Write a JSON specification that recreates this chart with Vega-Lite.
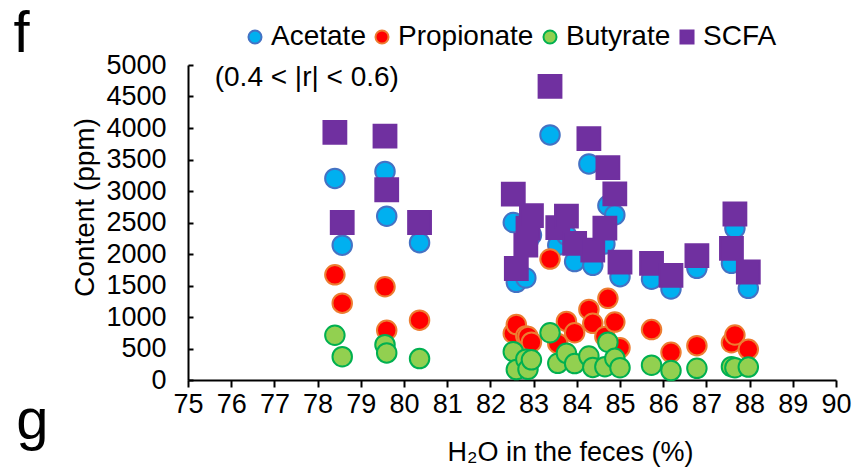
{
  "$schema": "https://vega.github.io/schema/vega-lite/v6.json",
  "width": 648,
  "height": 315,
  "autosize": {"type": "none"},
  "padding": {"left": 188, "top": 65, "right": 18, "bottom": 88},
  "background": "white",
  "config": {
    "font": "Liberation Sans",
    "view": {"stroke": null},
    "axis": {"grid": false, "domainColor": "black", "tickColor": "black", "labelColor": "black", "titleColor": "black", "labelFont": "Liberation Sans", "titleFont": "Liberation Sans", "titleFontWeight": "normal", "labelOverlap": false, "labelSeparation": 0},
    "legend": {"labelFontSize": 28, "labelFont": "Liberation Sans", "labelColor": "black", "symbolSize": 170, "symbolStrokeWidth": 2, "labelOffset": 2, "columnPadding": 2}
  },
  "encoding": {
    "x": {"field": "h", "type": "quantitative", "scale": {"domain": [75, 90], "nice": false},
      "axis": {"values": [75, 76, 77, 78, 79, 80, 81, 82, 83, 84, 85, 86, 87, 88, 89, 90], "format": "d", "title": "H₂O in the feces (%)", "titleFontSize": 27, "labelFontSize": 27, "tickSize": 7, "labelPadding": 4, "domainWidth": 2, "tickWidth": 2, "titleX": 382, "titleY": 80, "titleBaseline": "alphabetic", "labelFlush": false, "labelOverlap": false}},
    "y": {"field": "ppm", "type": "quantitative", "scale": {"domain": [0, 5000], "nice": false},
      "axis": {"values": [0, 500, 1000, 1500, 2000, 2500, 3000, 3500, 4000, 4500, 5000], "format": "d", "title": "Content (ppm)", "titleFontSize": 28, "labelFontSize": 27, "tickSize": -5, "labelPadding": 27, "domainWidth": 2, "tickWidth": 2, "titleX": -103, "titleY": 142, "titleAlign": "center", "titleBaseline": "middle", "labelOverlap": false}}
  },
  "layer": [
    {
      "data": {"values": [
        {"h": 78.40, "acid": "Acetate", "ppm": 3200},
        {"h": 78.57, "acid": "Acetate", "ppm": 2140},
        {"h": 79.56, "acid": "Acetate", "ppm": 3310},
        {"h": 79.60, "acid": "Acetate", "ppm": 2600},
        {"h": 80.36, "acid": "Acetate", "ppm": 2180},
        {"h": 82.53, "acid": "Acetate", "ppm": 2500},
        {"h": 82.60, "acid": "Acetate", "ppm": 1550},
        {"h": 82.82, "acid": "Acetate", "ppm": 1620},
        {"h": 82.87, "acid": "Acetate", "ppm": 2200},
        {"h": 82.95, "acid": "Acetate", "ppm": 2300},
        {"h": 83.38, "acid": "Acetate", "ppm": 3890},
        {"h": 83.56, "acid": "Acetate", "ppm": 2140},
        {"h": 83.76, "acid": "Acetate", "ppm": 2300},
        {"h": 83.95, "acid": "Acetate", "ppm": 1880},
        {"h": 84.28, "acid": "Acetate", "ppm": 3430},
        {"h": 84.37, "acid": "Acetate", "ppm": 1820},
        {"h": 84.65, "acid": "Acetate", "ppm": 2160},
        {"h": 84.72, "acid": "Acetate", "ppm": 2770},
        {"h": 84.88, "acid": "Acetate", "ppm": 2620},
        {"h": 85.00, "acid": "Acetate", "ppm": 1640},
        {"h": 85.73, "acid": "Acetate", "ppm": 1600},
        {"h": 86.18, "acid": "Acetate", "ppm": 1445},
        {"h": 86.78, "acid": "Acetate", "ppm": 1773},
        {"h": 87.58, "acid": "Acetate", "ppm": 1852},
        {"h": 87.66, "acid": "Acetate", "ppm": 2407},
        {"h": 87.97, "acid": "Acetate", "ppm": 1455},
        {"h": 78.40, "acid": "Propionate", "ppm": 1670},
        {"h": 78.57, "acid": "Propionate", "ppm": 1220},
        {"h": 79.56, "acid": "Propionate", "ppm": 1480},
        {"h": 79.60, "acid": "Propionate", "ppm": 790},
        {"h": 80.36, "acid": "Propionate", "ppm": 950},
        {"h": 82.53, "acid": "Propionate", "ppm": 740},
        {"h": 82.60, "acid": "Propionate", "ppm": 880},
        {"h": 82.82, "acid": "Propionate", "ppm": 700},
        {"h": 82.87, "acid": "Propionate", "ppm": 690},
        {"h": 82.95, "acid": "Propionate", "ppm": 600},
        {"h": 83.38, "acid": "Propionate", "ppm": 1920},
        {"h": 83.56, "acid": "Propionate", "ppm": 580},
        {"h": 83.76, "acid": "Propionate", "ppm": 930},
        {"h": 83.95, "acid": "Propionate", "ppm": 750},
        {"h": 84.28, "acid": "Propionate", "ppm": 1120},
        {"h": 84.37, "acid": "Propionate", "ppm": 900},
        {"h": 84.65, "acid": "Propionate", "ppm": 690},
        {"h": 84.72, "acid": "Propionate", "ppm": 1296},
        {"h": 84.88, "acid": "Propionate", "ppm": 920},
        {"h": 85.00, "acid": "Propionate", "ppm": 510},
        {"h": 85.73, "acid": "Propionate", "ppm": 800},
        {"h": 86.18, "acid": "Propionate", "ppm": 440},
        {"h": 86.78, "acid": "Propionate", "ppm": 545},
        {"h": 87.58, "acid": "Propionate", "ppm": 592},
        {"h": 87.66, "acid": "Propionate", "ppm": 714},
        {"h": 87.97, "acid": "Propionate", "ppm": 487},
        {"h": 78.40, "acid": "Butyrate", "ppm": 710},
        {"h": 78.57, "acid": "Butyrate", "ppm": 370},
        {"h": 79.56, "acid": "Butyrate", "ppm": 560},
        {"h": 79.60, "acid": "Butyrate", "ppm": 430},
        {"h": 80.36, "acid": "Butyrate", "ppm": 340},
        {"h": 82.53, "acid": "Butyrate", "ppm": 450},
        {"h": 82.60, "acid": "Butyrate", "ppm": 165},
        {"h": 82.82, "acid": "Butyrate", "ppm": 330},
        {"h": 82.87, "acid": "Butyrate", "ppm": 170},
        {"h": 82.95, "acid": "Butyrate", "ppm": 320},
        {"h": 83.38, "acid": "Butyrate", "ppm": 750},
        {"h": 83.56, "acid": "Butyrate", "ppm": 265},
        {"h": 83.76, "acid": "Butyrate", "ppm": 424},
        {"h": 83.95, "acid": "Butyrate", "ppm": 260},
        {"h": 84.28, "acid": "Butyrate", "ppm": 380},
        {"h": 84.37, "acid": "Butyrate", "ppm": 200},
        {"h": 84.65, "acid": "Butyrate", "ppm": 211},
        {"h": 84.72, "acid": "Butyrate", "ppm": 600},
        {"h": 84.88, "acid": "Butyrate", "ppm": 344},
        {"h": 85.00, "acid": "Butyrate", "ppm": 195},
        {"h": 85.73, "acid": "Butyrate", "ppm": 235},
        {"h": 86.18, "acid": "Butyrate", "ppm": 150},
        {"h": 86.78, "acid": "Butyrate", "ppm": 186},
        {"h": 87.58, "acid": "Butyrate", "ppm": 211},
        {"h": 87.66, "acid": "Butyrate", "ppm": 195},
        {"h": 87.97, "acid": "Butyrate", "ppm": 205},
        {"h": 78.40, "acid": "SCFA", "ppm": 3930},
        {"h": 78.57, "acid": "SCFA", "ppm": 2500},
        {"h": 79.56, "acid": "SCFA", "ppm": 3870},
        {"h": 79.60, "acid": "SCFA", "ppm": 3020},
        {"h": 80.36, "acid": "SCFA", "ppm": 2500},
        {"h": 82.53, "acid": "SCFA", "ppm": 2950},
        {"h": 82.60, "acid": "SCFA", "ppm": 1770},
        {"h": 82.82, "acid": "SCFA", "ppm": 2140},
        {"h": 82.87, "acid": "SCFA", "ppm": 2410},
        {"h": 82.95, "acid": "SCFA", "ppm": 2610},
        {"h": 83.38, "acid": "SCFA", "ppm": 4660},
        {"h": 83.56, "acid": "SCFA", "ppm": 2420},
        {"h": 83.76, "acid": "SCFA", "ppm": 2600},
        {"h": 83.95, "acid": "SCFA", "ppm": 2170},
        {"h": 84.28, "acid": "SCFA", "ppm": 3830},
        {"h": 84.37, "acid": "SCFA", "ppm": 2060},
        {"h": 84.65, "acid": "SCFA", "ppm": 2410},
        {"h": 84.72, "acid": "SCFA", "ppm": 3370},
        {"h": 84.88, "acid": "SCFA", "ppm": 2955},
        {"h": 85.00, "acid": "SCFA", "ppm": 1870},
        {"h": 85.73, "acid": "SCFA", "ppm": 1852},
        {"h": 86.18, "acid": "SCFA", "ppm": 1660},
        {"h": 86.78, "acid": "SCFA", "ppm": 1973},
        {"h": 87.58, "acid": "SCFA", "ppm": 2090},
        {"h": 87.66, "acid": "SCFA", "ppm": 2635},
        {"h": 87.97, "acid": "SCFA", "ppm": 1714}
      ]},
      "mark": {"type": "point", "filled": true, "opacity": 1, "strokeWidth": 2},
      "encoding": {
        "color": {"field": "acid", "type": "nominal", "scale": {"domain": ["Acetate", "Propionate", "Butyrate", "SCFA"], "range": ["#00B0F0", "#FF0000", "#92D050", "#7030A0"]},
          "legend": {"orient": "none", "legendX": 53, "legendY": -42, "direction": "horizontal", "title": null}},
        "stroke": {"field": "acid", "type": "nominal", "scale": {"domain": ["Acetate", "Propionate", "Butyrate", "SCFA"], "range": ["#4472C4", "#ED7D31", "#00B050", "#7030A0"]},
          "legend": {"orient": "none", "legendX": 53, "legendY": -42, "direction": "horizontal", "title": null}},
        "shape": {"field": "acid", "type": "nominal", "scale": {"domain": ["Acetate", "Propionate", "Butyrate", "SCFA"], "range": ["circle", "circle", "circle", "square"]},
          "legend": {"orient": "none", "legendX": 53, "legendY": -42, "direction": "horizontal", "title": null}},
        "size": {"condition": {"test": "datum.acid === 'SCFA'", "value": 520}, "value": 380}
      }
    },
    {
      "data": {"values": [{"h": 77.75, "ppm": 4790, "t": "(0.4 < |r| < 0.6)"}]},
      "mark": {"type": "text", "fontSize": 28, "align": "center", "baseline": "middle", "color": "black", "font": "Liberation Sans"},
      "encoding": {"text": {"field": "t"}}
    },
    {
      "data": {"values": [{"h": 71.15, "ppm": 5480, "t": "f"}, {"h": 71.4, "ppm": -660, "t": "g"}]},
      "mark": {"type": "text", "fontSize": 58, "align": "center", "baseline": "middle", "color": "black", "font": "Liberation Sans"},
      "encoding": {"text": {"field": "t"}}
    }
  ]
}
